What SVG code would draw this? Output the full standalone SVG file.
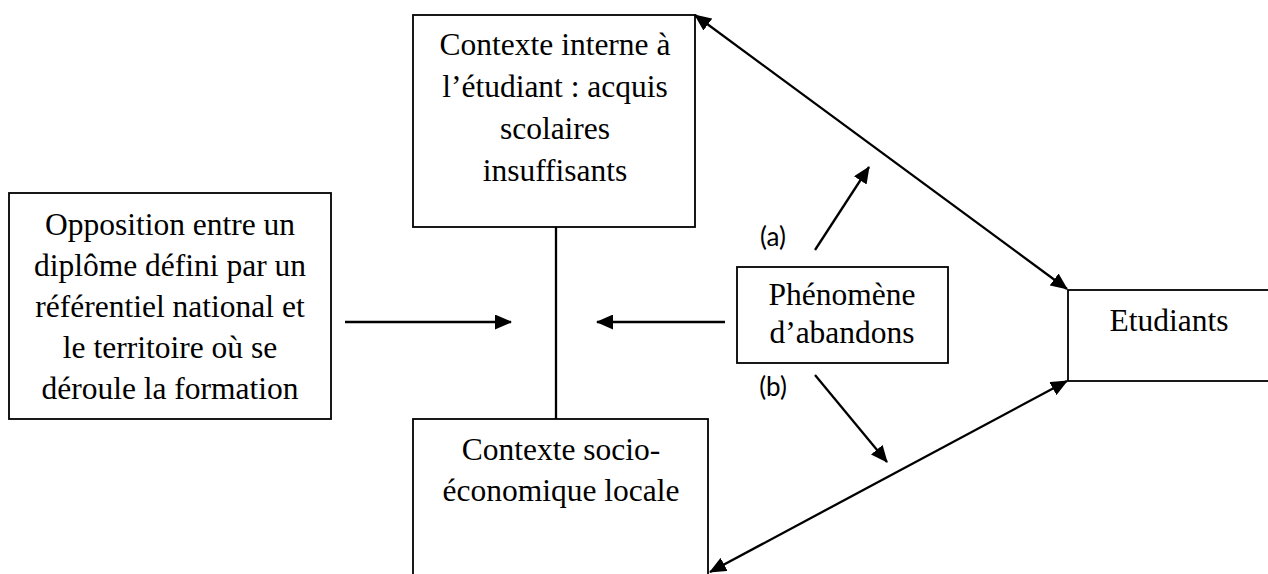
<svg xmlns="http://www.w3.org/2000/svg" width="1268" height="574" viewBox="0 0 1268 574">
  <style>
    .box { fill: #ffffff; stroke: #000000; stroke-width: 1.8; }
    .t { font-family: "Liberation Serif", "Times New Roman", serif; font-size: 31.5px; fill: #000000; text-anchor: middle; }
    .lbl { font-family: Lato, "Open Sans", sans-serif; font-size: 26px; fill: #000000; text-anchor: middle; }
    .conn { stroke: #000000; stroke-width: 2.3; fill: none; }
  </style>
  <defs>
    <marker id="arr" viewBox="0 0 17 15" refX="16" refY="7.5" markerWidth="17" markerHeight="15" markerUnits="userSpaceOnUse" orient="auto-start-reverse">
      <path d="M0,0 L17,7.5 L0,15 z" fill="#000000"/>
    </marker>
  </defs>
  <rect width="1268" height="574" fill="#ffffff"/>

  <g id="connectors">
    <line class="conn" x1="556" y1="227" x2="556" y2="419"/>
    <line class="conn" x1="345" y1="322" x2="511" y2="322" marker-end="url(#arr)"/>
    <line class="conn" x1="725" y1="322" x2="597" y2="322" marker-end="url(#arr)"/>
    <line class="conn" x1="815" y1="250" x2="869" y2="167" marker-end="url(#arr)"/>
    <line class="conn" x1="815" y1="375" x2="887" y2="462" marker-end="url(#arr)"/>
    <line class="conn" x1="695" y1="15" x2="1067" y2="289" marker-start="url(#arr)" marker-end="url(#arr)"/>
    <line class="conn" x1="710" y1="572" x2="1067" y2="381" marker-start="url(#arr)" marker-end="url(#arr)"/>
  </g>

  <g id="node-contexte-interne">
    <rect class="box" x="413" y="15" width="282" height="212"/>
    <text class="t" x="555" y="55">Contexte interne à</text>
    <text class="t" x="555" y="97">l’étudiant : acquis</text>
    <text class="t" x="555" y="139">scolaires</text>
    <text class="t" x="555" y="181">insuffisants</text>
  </g>

  <g id="node-opposition">
    <rect class="box" x="9" y="193" width="322" height="226"/>
    <text class="t" x="170" y="235">Opposition entre un</text>
    <text class="t" x="170" y="276">diplôme défini par un</text>
    <text class="t" x="170" y="317">référentiel national et</text>
    <text class="t" x="170" y="358">le territoire où se</text>
    <text class="t" x="170" y="399">déroule la formation</text>
  </g>

  <g id="node-socio">
    <rect class="box" x="413" y="419" width="295" height="170"/>
    <text class="t" x="561" y="460">Contexte socio-</text>
    <text class="t" x="561" y="501">économique locale</text>
  </g>

  <g id="node-phenomene">
    <rect class="box" x="737" y="267" width="211" height="96"/>
    <text class="t" x="842" y="305">Phénomène</text>
    <text class="t" x="842" y="343">d’abandons</text>
  </g>

  <g id="node-etudiants">
    <rect class="box" x="1068" y="290" width="220" height="91"/>
    <text class="t" x="1169" y="331">Etudiants</text>
  </g>

  <g id="labels">
    <text class="lbl" x="773" y="246">(a)</text>
    <text class="lbl" x="773" y="396">(b)</text>
  </g>
</svg>
